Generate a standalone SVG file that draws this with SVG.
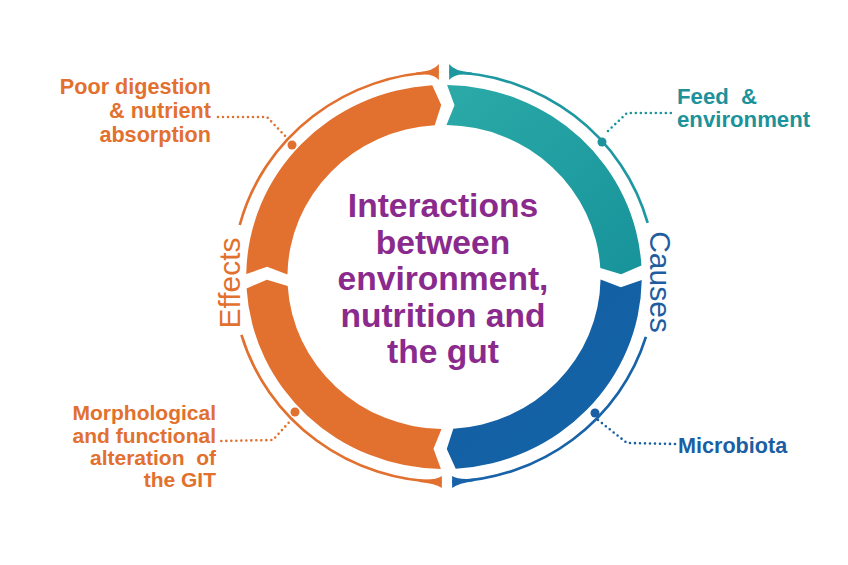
<svg xmlns="http://www.w3.org/2000/svg" width="848" height="565" viewBox="0 0 848 565">
<style>
.lbl{font-family:"Liberation Sans",Arial,sans-serif;font-weight:bold;font-size:21px}
.big{font-size:21.6px}
.bigger{font-size:22.2px}
.or{fill:#E2702F}
.te{fill:#1C929B}
.bl{fill:#1A5FA3}
.ttl{font-family:"Liberation Sans",Arial,sans-serif;font-weight:bold;font-size:33.6px;fill:#8B2A8D;text-anchor:middle}
.side{font-family:"Liberation Sans",Arial,sans-serif;font-size:30px;text-anchor:middle}
.ring{fill:none;stroke-width:2.6}
.dots{fill:none;stroke-width:2.6;stroke-linecap:round;stroke-dasharray:0 5}
</style>
<defs>
<path id="seg" d="M 3.016,-191.976 A 192 192 0 0 1 191.662,-11.387 L 171.979,-2.702 L 151.732,-9.015 A 152 152 0 0 0 2.387,-151.981 L 10.201,-171.697 Z"/>
<linearGradient id="gTeal" x1="0" y1="0" x2="1" y2="1">
<stop offset="0" stop-color="#2BAAA8"/>
<stop offset="1" stop-color="#17939A"/>
</linearGradient>
<linearGradient id="gBlue" x1="1" y1="0" x2="0" y2="1">
<stop offset="0" stop-color="#1565AA"/>
<stop offset="1" stop-color="#125C9F"/>
</linearGradient>
</defs>
<rect width="848" height="565" fill="#FFFFFF"/>

<g id="wheel" transform="translate(444,277) scale(1.03,1)">
  <g id="band-causes-feed"><use href="#seg" fill="url(#gTeal)"/></g>
  <g id="band-causes-microbiota"><use href="#seg" transform="rotate(90)" fill="url(#gBlue)"/></g>
  <g id="band-effects-lower"><use href="#seg" transform="rotate(180)" fill="#E2702F"/></g>
  <g id="band-effects-upper"><use href="#seg" transform="rotate(270)" fill="#E2702F"/></g>
  <g id="outer-ring">
    <path class="ring" stroke="#1E98A0" d="M 5.008,-204.939 A 205 205 0 0 1 197.735,-54.093"/>
    <path class="ring" stroke="#1762A8" d="M 196.042,59.936 A 205 205 0 0 1 7.870,204.849"/>
    <path class="ring" stroke="#E2702F" d="M -2.147,204.989 A 205 205 0 0 1 -196.659,57.880"/>
    <path class="ring" stroke="#E2702F" d="M -198.290,-52.021 A 205 205 0 0 1 -5.009,-204.939"/>
    <path fill="#E2702F" d="M -27,-204.5 Q -10,-205.5 -5,-212.9 L -5,-196.9 Q -10,-204.3 -27,-201.9 Z"/>
    <path fill="#1E98A0" d="M 27,-204.5 Q 10,-205.5 5,-212.9 L 5,-196.9 Q 10,-204.3 27,-201.9 Z"/>
    <path fill="#E2702F" d="M -24,202.3 Q -8,203.5 -2.1,199 L -2.1,211 Q -8,206.5 -24,204.9 Z"/>
    <path fill="#1762A8" d="M 30,201.5 Q 14,203.2 7.9,199 L 7.9,211 Q 14,206.3 30,204.1 Z"/>
  </g>
</g>

<g id="label-effects"><text class="side or" transform="translate(240,283) rotate(-90)">Effects</text></g>
<g id="label-causes"><text class="side" fill="#1F5E9E" transform="translate(650,282) rotate(90)">Causes</text></g>

<g id="title">
<text class="ttl" x="443" y="217">Interactions</text>
<text class="ttl" x="443" y="254">between</text>
<text class="ttl" x="443" y="290">environment,</text>
<text class="ttl" x="443" y="327">nutrition and</text>
<text class="ttl" x="443" y="363">the gut</text>
</g>

<g id="connectors">
  <path class="dots" stroke="#E2702F" d="M 218,117 L 267,117 L 288,139"/>
  <path class="dots" stroke="#1C929B" d="M 608,131 L 627,113 L 675,113"/>
  <path class="dots" stroke="#E2702F" d="M 292,419 L 273,440 L 220,441"/>
  <path class="dots" stroke="#1A5FA3" d="M 598,420 L 627,443 L 675,444"/>
  <circle cx="292" cy="145" r="4.5" fill="#E2702F"/>
  <circle cx="602" cy="142" r="4.5" fill="#1C929B"/>
  <circle cx="295" cy="412" r="4.5" fill="#E2702F"/>
  <circle cx="595" cy="413" r="4.5" fill="#1A5FA3"/>
</g>

<g id="node-poor-digestion">
<text class="lbl big or" text-anchor="end" x="211" y="94">Poor digestion</text>
<text class="lbl big or" text-anchor="end" x="211" y="118">&amp; nutrient</text>
<text class="lbl big or" text-anchor="end" x="211" y="142">absorption</text>
</g>
<g id="node-feed">
<text class="lbl bigger te" x="677" y="104">Feed&#160; &amp;</text>
<text class="lbl bigger te" x="677" y="127">environment</text>
</g>
<g id="node-morphological">
<text class="lbl or" text-anchor="end" x="216" y="420">Morphological</text>
<text class="lbl or" text-anchor="end" x="216" y="443">and functional</text>
<text class="lbl or" text-anchor="end" x="216" y="465">alteration&#160; of</text>
<text class="lbl or" text-anchor="end" x="216" y="487">the GIT</text>
</g>
<g id="node-microbiota">
<text class="lbl big bl" x="678" y="453">Microbiota</text>
</g>
</svg>
